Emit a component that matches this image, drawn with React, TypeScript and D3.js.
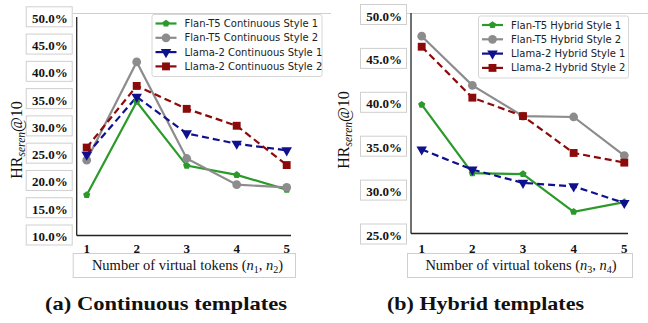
import React from "react";
import * as d3 from "d3";

const tokens = [1, 2, 3, 4, 5];

const contFlanS1 = [17.6, 34.7, 23.0, 21.3, 18.6];
const contFlanS2 = [24.0, 42.0, 24.3, 19.5, 19.0];
const contLlamaS1 = [25.0, 35.6, 28.9, 27.0, 25.8];
const contLlamaS2 = [26.3, 37.6, 33.4, 30.3, 23.1];

const hybFlanS1 = [39.9, 32.1, 32.0, 27.7, 28.8];
const hybFlanS2 = [47.7, 42.1, 38.6, 38.5, 34.1];
const hybLlamaS1 = [34.8, 32.5, 31.0, 30.6, 28.7];
const hybLlamaS2 = [46.5, 40.7, 38.6, 34.4, 33.3];

const contTicks = [10, 15, 20, 25, 30, 35, 40, 45, 50];
const hybTicks = [25, 30, 35, 40, 45, 50];

type Marker = "pentagon" | "circle" | "tri" | "square";

interface Series {
  label: string;
  values: number[];
  color: string;
  dashed: boolean;
  marker: Marker;
}

const STYLES = [
  { color: "#2b9a2b", dashed: false, marker: "pentagon" as Marker },
  { color: "#8c8c8c", dashed: false, marker: "circle" as Marker },
  { color: "#10108f", dashed: true, marker: "tri" as Marker },
  { color: "#8b0a0a", dashed: true, marker: "square" as Marker },
];

function makeSeries(kind: string, vals: number[][]): Series[] {
  const names = [
    `Flan-T5 ${kind} Style 1`,
    `Flan-T5 ${kind} Style 2`,
    `Llama-2 ${kind} Style 1`,
    `Llama-2 ${kind} Style 2`,
  ];
  return names.map((label, i) => ({ label, values: vals[i], ...STYLES[i] }));
}

const pentagon = {
  draw(ctx: any, size: number) {
    const r = Math.sqrt(size / 2.38);
    for (let i = 0; i < 5; i++) {
      const a = -Math.PI / 2 + (i * 2 * Math.PI) / 5;
      const px = r * Math.cos(a);
      const py = r * Math.sin(a);
      if (i === 0) ctx.moveTo(px, py);
      else ctx.lineTo(px, py);
    }
    ctx.closePath();
  },
};

function markerPath(m: Marker): string {
  if (m === "pentagon") return d3.symbol(pentagon as any, 34)() || "";
  if (m === "circle") return d3.symbol(d3.symbolCircle, 60)() || "";
  if (m === "square") return d3.symbol(d3.symbolSquare, 62)() || "";
  return d3.symbol(d3.symbolTriangle, 48)() || "";
}

function MarkerShape({ m, x, y, color }: { m: Marker; x: number; y: number; color: string }) {
  const rot = m === "tri" ? " rotate(180)" : "";
  return <path d={markerPath(m)} transform={`translate(${x},${y})${rot}`} fill={color} />;
}

interface PanelProps {
  series: Series[];
  ticks: number[];
  yRange: [number, number];
  xRange: [number, number];
  spineX: number;
  spineTop: number;
  spineBottom: number;
  spineRight: number;
  legendX: number;
  legendY: number;
  legendW: number;
  sub: [string, string];
  xLabelX: number;
  caption: string;
  captionX: number;
  captionW: number;
  yLabelX: number;
  yLabelY: number;
}

function Panel(p: PanelProps) {
  const x = d3.scaleLinear().domain([1, 5]).range(p.xRange);
  const y = d3.scaleLinear().domain([p.ticks[0], p.ticks[p.ticks.length - 1]]).range(p.yRange);
  const line = d3
    .line<number>()
    .x((_, i) => x(tokens[i]))
    .y((d) => y(d));
  const serif = "'Liberation Serif', 'DejaVu Serif', serif";

  return (
    <g>
      {/* faint boxes around tick labels (scan artefact) */}
      <g fill="none" stroke="#cfcfcf" strokeWidth={1}>
        <line x1={p.spineX - 4} x2={p.spineRight + 40} y1={13.5} y2={13.5} />
        {p.ticks.map((t) => (
          <rect key={t} x={p.spineX - 50.5} y={y(t) - 11.5} width={46} height={20} />
        ))}
        <rect x={p.spineX - 3.5} y={253.5} width={p.spineRight - p.spineX + 8} height={24} />
      </g>

      {/* spines */}
      <line x1={p.spineX} x2={p.spineX} y1={p.spineTop} y2={p.spineBottom} stroke="#222" strokeWidth={1.3} />
      <line x1={p.spineX} x2={p.spineRight} y1={p.spineBottom} y2={p.spineBottom} stroke="#222" strokeWidth={1.3} />

      {/* y ticks */}
      {p.ticks.map((t) => (
        <text
          key={t}
          x={p.spineX - 9}
          y={y(t)}
          fontFamily={serif}
          fontWeight="bold"
          fontSize={13}
          textAnchor="end"
          dominantBaseline="central"
          fill="#111"
        >
          {`${t.toFixed(1)}%`}
        </text>
      ))}

      {/* x ticks */}
      {tokens.map((t) => (
        <text
          key={t}
          x={x(t)}
          y={248}
          fontFamily={serif}
          fontWeight="bold"
          fontSize={13}
          textAnchor="middle"
          dominantBaseline="central"
          fill="#111"
        >
          {t}
        </text>
      ))}

      {/* x label */}
      <text x={p.xLabelX} y={270} fontFamily={serif} fontSize={14.5} textAnchor="middle" fill="#111">
        Number of virtual tokens (
        <tspan fontStyle="italic">n</tspan>
        <tspan fontSize={10} dy={3}>{p.sub[0]}</tspan>
        <tspan dy={-3}>, </tspan>
        <tspan fontStyle="italic">n</tspan>
        <tspan fontSize={10} dy={3}>{p.sub[1]}</tspan>
        <tspan dy={-3}>)</tspan>
      </text>

      {/* y label */}
      <text
        transform={`translate(${p.yLabelX},${p.yLabelY}) rotate(-90)`}
        fontFamily={serif}
        fontSize={16}
        textAnchor="middle"
        fill="#111"
      >
        HR
        <tspan fontStyle="italic" fontSize={11.5} dy={3}>seren</tspan>
        <tspan dy={-3}>@10</tspan>
      </text>

      {/* lines */}
      {p.series.map((s) => (
        <path
          key={s.label}
          d={line(s.values) || ""}
          fill="none"
          stroke={s.color}
          strokeWidth={2.2}
          strokeDasharray={s.dashed ? "7,4" : undefined}
        />
      ))}
      {p.series.map((s) =>
        s.values.map((v, i) => (
          <MarkerShape key={s.label + i} m={s.marker} x={x(tokens[i])} y={y(v)} color={s.color} />
        ))
      )}

      {/* legend */}
      <g transform={`translate(${p.legendX},${p.legendY})`}>
        <rect x={0.5} y={0.5} width={p.legendW} height={62} rx={2} fill="white" fillOpacity={0.85} stroke="#d6d6d6" />
        {p.series.map((s, i) => (
          <g key={s.label} transform={`translate(0,${9.5 + i * 14.3})`}>
            <line x1={4} x2={25} y1={0} y2={0} stroke={s.color} strokeWidth={2.2} />
            <MarkerShape m={s.marker} x={14.5} y={0} color={s.color} />
            <text x={33} y={0} fontFamily="'DejaVu Sans', sans-serif" fontSize={10} dominantBaseline="central" fill="#222">
              {s.label}
            </text>
          </g>
        ))}
      </g>

      {/* caption */}
      <text
        x={p.captionX}
        y={310}
        fontFamily={serif}
        fontWeight="bold"
        fontSize={19.5}
        textAnchor="middle"
        textLength={p.captionW}
        lengthAdjust="spacingAndGlyphs"
        fill="#111"
      >
        {p.caption}
      </text>
    </g>
  );
}

export default function App() {
  const cont = makeSeries("Continuous", [contFlanS1, contFlanS2, contLlamaS1, contLlamaS2]);
  const hyb = makeSeries("Hybrid", [hybFlanS1, hybFlanS2, hybLlamaS1, hybLlamaS2]);
  return (
    <svg
      width={648}
      height={323}
      style={{ position: "absolute", left: 0, top: 0, background: "white" }}
    >
      <Panel
        series={cont}
        ticks={contTicks}
        yRange={[236.5, 18.3]}
        xRange={[86.7, 286.7]}
        spineX={76.7}
        spineTop={17}
        spineBottom={235.5}
        spineRight={291}
        legendX={151.5}
        legendY={14}
        legendW={170}
        sub={["1", "2"]}
        xLabelX={187.5}
        caption="(a) Continuous templates"
        captionX={166}
        captionW={242}
        yLabelX={22}
        yLabelY={140}
      />
      <Panel
        series={hyb}
        ticks={hybTicks}
        yRange={[235.5, 16]}
        xRange={[421.7, 624.3]}
        spineX={411}
        spineTop={13}
        spineBottom={233.5}
        spineRight={628}
        legendX={478}
        legendY={15.5}
        legendW={150}
        sub={["3", "4"]}
        xLabelX={521}
        caption="(b) Hybrid templates"
        captionX={485.5}
        captionW={197}
        yLabelX={349}
        yLabelY={130}
      />
    </svg>
  );
}
